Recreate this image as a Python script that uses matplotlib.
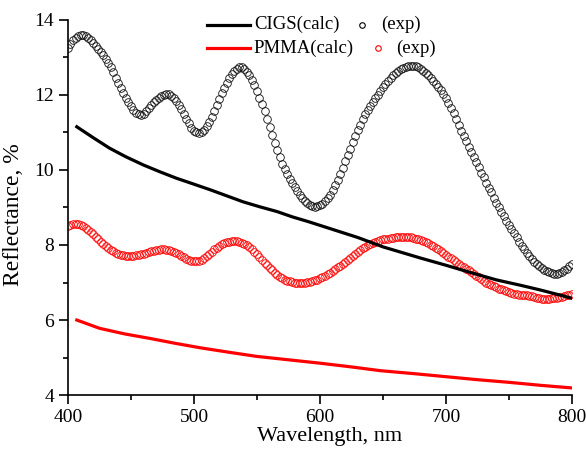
import numpy as np
import matplotlib
matplotlib.use('Agg')
import matplotlib.pyplot as plt

plt.rcParams['font.family'] = ['Liberation Serif', 'DejaVu Serif']

# wavelength grid of the measured spectra, nm
wl_exp = np.arange(400, 801, 2)

# CIGS measured reflectance, %
cigs_exp = [13.25, 13.36, 13.45, 13.52, 13.57, 13.60, 13.60, 13.57, 13.52, 13.46,
            13.38, 13.30, 13.22, 13.14, 13.05, 12.96, 12.85, 12.73, 12.60, 12.46,
            12.32, 12.18, 12.04, 11.91, 11.80, 11.70, 11.60, 11.53, 11.49, 11.47,
            11.50, 11.56, 11.64, 11.72, 11.80, 11.87, 11.93, 11.98, 12.01, 12.03,
            12.02, 11.98, 11.92, 11.84, 11.74, 11.62, 11.49, 11.36, 11.24, 11.13,
            11.05, 11.00, 10.98, 11.00, 11.07, 11.16, 11.28, 11.41, 11.56, 11.72,
            11.88, 12.04, 12.19, 12.33, 12.45, 12.56, 12.64, 12.70, 12.73, 12.73,
            12.69, 12.62, 12.52, 12.40, 12.26, 12.10, 11.93, 11.75, 11.56, 11.36,
            11.15, 10.94, 10.73, 10.53, 10.34, 10.17, 10.02, 9.88, 9.76, 9.65,
            9.54, 9.44, 9.34, 9.25, 9.17, 9.11, 9.06, 9.03, 9.02, 9.03,
            9.06, 9.10, 9.16, 9.24, 9.34, 9.46, 9.59, 9.74, 9.90, 10.06,
            10.23, 10.40, 10.57, 10.74, 10.90, 11.06, 11.21, 11.35, 11.48, 11.60,
            11.71, 11.81, 11.91, 12.01, 12.11, 12.20, 12.29, 12.37, 12.45, 12.52,
            12.58, 12.63, 12.68, 12.72, 12.75, 12.77, 12.78, 12.78, 12.76, 12.73,
            12.69, 12.64, 12.58, 12.52, 12.45, 12.38, 12.30, 12.22, 12.12, 12.02,
            11.91, 11.79, 11.66, 11.52, 11.37, 11.21, 11.05, 10.90, 10.76, 10.62,
            10.48, 10.34, 10.20, 10.07, 9.93, 9.80, 9.66, 9.53, 9.40, 9.26,
            9.13, 9.00, 8.88, 8.76, 8.64, 8.53, 8.42, 8.31, 8.20, 8.09,
            7.98, 7.88, 7.79, 7.70, 7.62, 7.55, 7.48, 7.43, 7.38, 7.34,
            7.30, 7.27, 7.25, 7.24, 7.24, 7.25, 7.28, 7.32, 7.37, 7.43,
            7.49]

# PMMA measured reflectance, %
pmma_exp = [8.50, 8.54, 8.56, 8.57, 8.56, 8.54, 8.50, 8.45, 8.40, 8.34,
            8.28, 8.21, 8.15, 8.08, 8.02, 7.97, 7.92, 7.87, 7.83, 7.79,
            7.76, 7.74, 7.72, 7.71, 7.71, 7.71, 7.71, 7.72, 7.73, 7.75,
            7.77, 7.79, 7.81, 7.83, 7.85, 7.86, 7.87, 7.88, 7.88, 7.87,
            7.86, 7.84, 7.81, 7.78, 7.75, 7.71, 7.67, 7.63, 7.60, 7.57,
            7.56, 7.56, 7.57, 7.60, 7.64, 7.70, 7.76, 7.82, 7.88, 7.93,
            7.98, 8.02, 8.05, 8.07, 8.09, 8.10, 8.11, 8.10, 8.09, 8.06,
            8.03, 7.99, 7.94, 7.88, 7.82, 7.75, 7.68, 7.60, 7.53, 7.46,
            7.39, 7.32, 7.26, 7.21, 7.16, 7.12, 7.08, 7.05, 7.03, 7.01,
            7.00, 7.00, 7.00, 7.00, 7.00, 7.01, 7.02, 7.04, 7.06, 7.08,
            7.11, 7.14, 7.18, 7.22, 7.26, 7.30, 7.35, 7.40, 7.45, 7.50,
            7.55, 7.60, 7.66, 7.71, 7.76, 7.81, 7.86, 7.91, 7.95, 7.99,
            8.02, 8.05, 8.08, 8.11, 8.13, 8.15, 8.16, 8.17, 8.18, 8.19,
            8.20, 8.21, 8.21, 8.21, 8.21, 8.21, 8.20, 8.19, 8.17, 8.15,
            8.13, 8.11, 8.08, 8.05, 8.01, 7.97, 7.93, 7.89, 7.84, 7.79,
            7.74, 7.69, 7.64, 7.59, 7.54, 7.50, 7.45, 7.41, 7.36, 7.32,
            7.27, 7.23, 7.18, 7.14, 7.09, 7.05, 7.00, 6.96, 6.93, 6.90,
            6.87, 6.84, 6.82, 6.79, 6.77, 6.74, 6.72, 6.70, 6.69, 6.68,
            6.67, 6.66, 6.66, 6.65, 6.64, 6.62, 6.60, 6.58, 6.56, 6.55,
            6.56, 6.57, 6.58, 6.59, 6.60, 6.61, 6.62, 6.64, 6.66, 6.68,
            6.70]

# calculated curves
wl_cigs_calc = [407, 420, 433, 446, 460, 473, 486, 500, 513, 526, 539, 552, 566, 578,
                591, 604, 617, 630, 650, 663, 680, 700, 716, 740, 760, 775, 790, 800]
cigs_calc = [11.15, 10.86, 10.58, 10.35, 10.13, 9.95, 9.78, 9.62, 9.47, 9.31, 9.15, 9.02,
             8.89, 8.75, 8.62, 8.48, 8.34, 8.20, 7.95, 7.82, 7.65, 7.46, 7.30, 7.07,
             6.92, 6.80, 6.67, 6.58]

wl_pmma_calc = [407, 425, 445, 465, 485, 505, 530, 550, 575, 600, 625, 648, 675, 700,
                725, 750, 775, 800]
pmma_calc = [6.00, 5.78, 5.63, 5.51, 5.38, 5.26, 5.13, 5.03, 4.94, 4.85, 4.75, 4.65,
             4.57, 4.49, 4.41, 4.34, 4.26, 4.19]

fig = plt.figure(figsize=(5.86, 4.51), dpi=100)
ax = fig.add_axes([0.116, 0.124, 0.86, 0.832])

ax.plot(wl_exp, cigs_exp, 'o', mfc='none', mec='#111111', ms=5.5, mew=0.6)
ax.plot(wl_exp, pmma_exp, 'o', mfc='none', mec='red', ms=5.5, mew=0.6)
ax.plot(wl_cigs_calc, cigs_calc, '-', color='black', lw=2.3)
ax.plot(wl_pmma_calc, pmma_calc, '-', color='red', lw=2.3)

ax.set_xlim(400, 800)
ax.set_ylim(4, 14)
ax.set_xticks([400, 500, 600, 700, 800])
ax.set_xticks([450, 550, 650, 750], minor=True)
ax.set_yticks([4, 6, 8, 10, 12, 14])
ax.set_yticks([5, 7, 9, 11, 13], minor=True)
ax.tick_params(which='major', direction='out', length=6.5, width=1.2, labelsize=14)
ax.tick_params(which='minor', direction='out', length=3.5, width=1.2)
for s in ['top', 'right']:
    ax.spines[s].set_visible(False)
for s in ['left', 'bottom']:
    ax.spines[s].set_linewidth(1.2)

ax.set_xlabel('Wavelength, nm', fontsize=16)
ax.set_ylabel('Reflectance, %', fontsize=17)
ax.xaxis.set_label_coords(0.52, -0.085)
ax.yaxis.set_label_coords(-0.088, 0.48)

# legend drawn by hand (rows are offset like in the original)
tr = ax.transAxes
ax.plot([0.276, 0.361], [0.987, 0.987], color='black', lw=2.3, transform=tr, clip_on=False)
ax.text(0.369, 0.987, 'CIGS(calc)', fontsize=13.5, va='center', transform=tr)
ax.plot([0.583], [0.987], 'o', mfc='none', mec='black', ms=4, mew=0.8, transform=tr, clip_on=False)
ax.text(0.622, 0.987, '(exp)', fontsize=13.5, va='center', transform=tr)
ax.plot([0.276, 0.361], [0.925, 0.925], color='red', lw=2.3, transform=tr, clip_on=False)
ax.text(0.369, 0.925, 'PMMA(calc)', fontsize=13.5, va='center', transform=tr)
ax.plot([0.615], [0.925], 'o', mfc='none', mec='red', ms=4, mew=0.8, transform=tr, clip_on=False)
ax.text(0.652, 0.925, '(exp)', fontsize=13.5, va='center', transform=tr)

fig.savefig('out.png', dpi=100)
